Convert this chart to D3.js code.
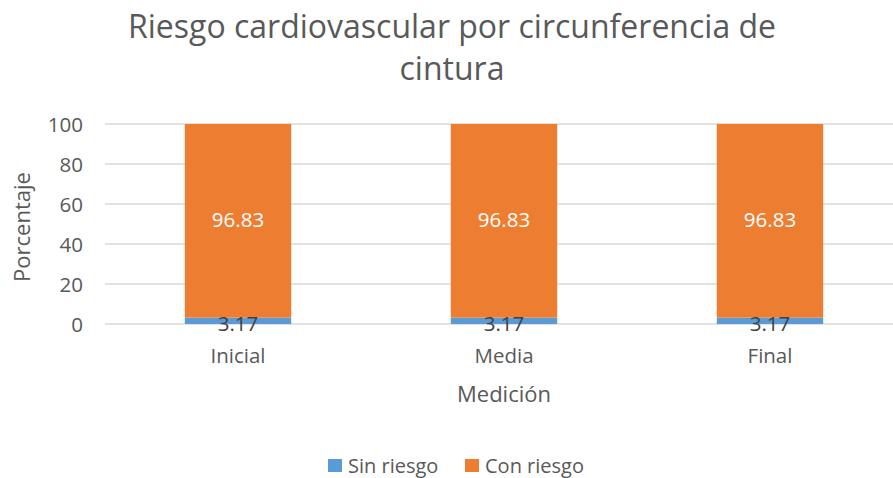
<!DOCTYPE html>
<html><head><meta charset="utf-8">
<script src="https://cdn.jsdelivr.net/npm/d3@7"></script>
<style>body{margin:0;background:#fff;} svg{display:block;font-family:"Open Sans",sans-serif;}</style>
</head><body>
<svg id="c" width="893" height="478"></svg>
<script>
const categories = ["Inicial","Media","Final"];
const sinRiesgo = [3.17,3.17,3.17];
const conRiesgo = [96.83,96.83,96.83];
const yTicks = [0,20,40,60,80,100];
const seriesNames = ["Sin riesgo","Con riesgo"];
const colors = ["#5B9BD5","#ED7D31"];

const svg = d3.select("#c");
const W = 893;
const x = d3.scaleBand().domain(categories).range([105,903]).paddingInner(0.6).paddingOuter(0.3);
const y = d3.scaleLinear().domain([0,100]).range([324,124]);

// gridlines
svg.append("g").selectAll("line").data(yTicks).join("line")
  .attr("x1",105).attr("x2",W).attr("y1",d=>y(d)).attr("y2",d=>y(d))
  .attr("stroke","#D9D9D9").attr("stroke-width",1.3);

// y labels
svg.append("g").selectAll("text").data(yTicks).join("text")
  .attr("x",83).attr("y",d=>y(d)+8).attr("text-anchor","end")
  .attr("font-size",20.5).attr("fill","#595959").text(d=>d);

const data = categories.map((c,i)=>({c, s:sinRiesgo[i], r:conRiesgo[i]}));
const stack = d3.stack().keys(["s","r"])(data);

stack.forEach((layer,li)=>{
  svg.append("g").selectAll("rect").data(layer).join("rect")
    .attr("x",d=>x(d.data.c)).attr("width",x.bandwidth())
    .attr("y",d=>y(d[1])).attr("height",d=>y(d[0])-y(d[1]))
    .attr("fill",colors[li]);
});
stack.forEach((layer,li)=>{
  svg.append("g").selectAll("text").data(layer).join("text")
    .attr("x",d=>x(d.data.c)+x.bandwidth()/2)
    .attr("y",d=>li===0 ? y(0)+7 : y((d[0]+d[1])/2)+6)
    .attr("text-anchor","middle")
    .attr("font-size",20.5).attr("fill",li===0?"#404040":"#FFFFFF")
    .text(d=>(d[1]-d[0]).toFixed(2));
});

// x labels
svg.append("g").selectAll("text").data(categories).join("text")
  .attr("x",d=>x(d)+x.bandwidth()/2).attr("y",363)
  .attr("text-anchor","middle").attr("font-size",20.5).attr("fill","#595959").text(d=>d);

// axis titles
svg.append("text").attr("x",504).attr("y",402).attr("text-anchor","middle")
  .attr("font-size",22).attr("fill","#595959").text("Medición");
svg.append("text").attr("transform","translate(30,227) rotate(-90)")
  .attr("text-anchor","middle").attr("font-size",22).attr("fill","#595959").text("Porcentaje");

// title
const title = svg.append("text").attr("text-anchor","middle").attr("font-size",32).attr("fill","#595959");
title.append("tspan").attr("x",452).attr("y",38).text("Riesgo cardiovascular por circunferencia de");
title.append("tspan").attr("x",452).attr("y",80).text("cintura");

// legend
const leg = svg.append("g");
const legX = [328,465];
seriesNames.forEach((n,i)=>{
  leg.append("rect").attr("x",legX[i]).attr("y",459).attr("width",14).attr("height",13).attr("fill",colors[i]);
  leg.append("text").attr("x",legX[i]+20).attr("y",473).attr("font-size",20)
    .attr("fill","#595959").text(n);
});
</script>
</body></html>
